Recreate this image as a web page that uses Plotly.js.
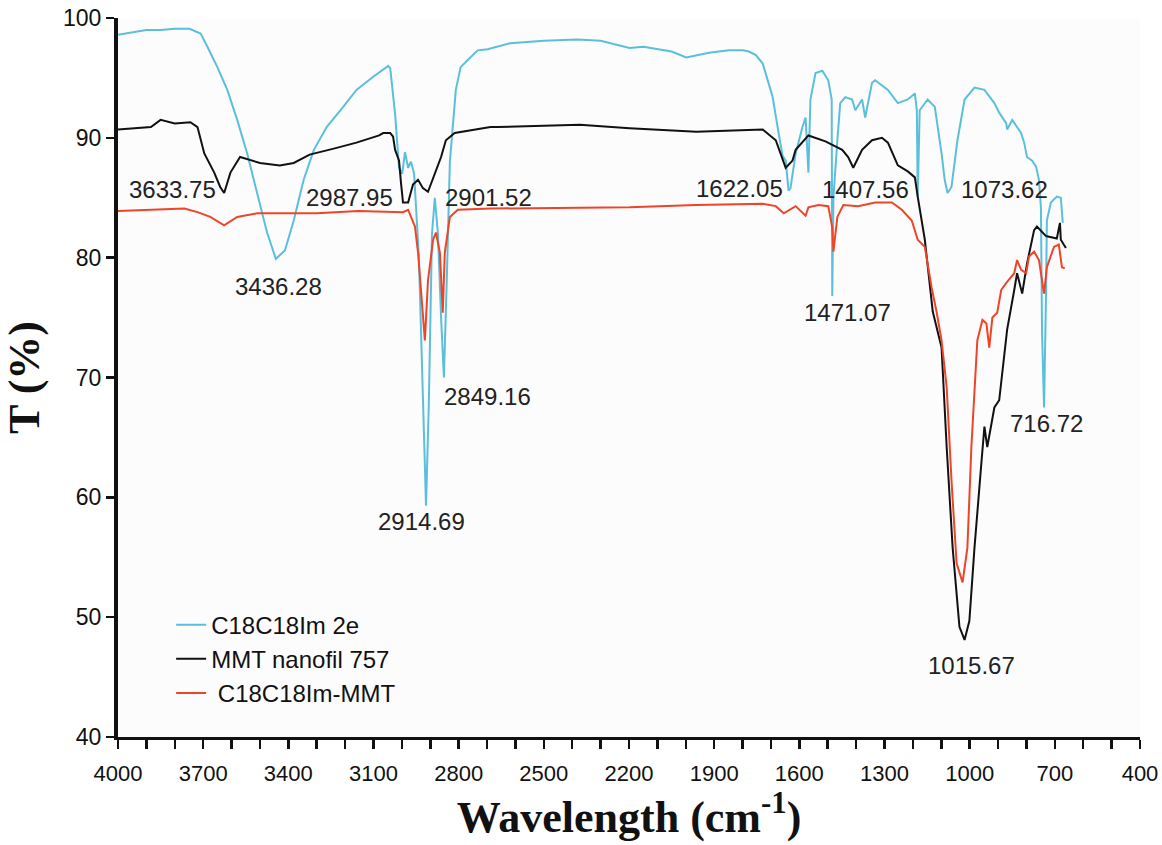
<!DOCTYPE html>
<html>
<head>
<meta charset="utf-8">
<script src="https://cdn.plot.ly/plotly-3.0.1.min.js"></script>
<style>html,body{margin:0;padding:0;background:#fff;}#chart{width:1162px;height:845px;}</style>
</head>
<body>
<div id="chart"></div>
<script>
// C18C18Im 2e (cyan)
const c18Wn = [4000,3950,3900,3850,3800,3748,3709,3685,3650,3615,3580,3545,3510,3475,3444,3412,3381,3346,3310,3265,3206,3160,3101,3055,3048,3041,3024,3010,2999,2989,2978,2968,2957,2940,2926,2915,2905,2894,2884,2873,2862,2852,2842,2831,2810,2793,2768,2733,2698,2663,2618,2500,2383,2300,2198,2149,2050,1998,1918,1848,1799,1778,1753,1729,1708,1694,1673,1659,1648,1638,1631,1613,1589,1578,1568,1561,1543,1519,1498,1486,1484,1480,1466,1456,1438,1414,1403,1379,1368,1344,1333,1288,1253,1218,1193,1186,1183,1176,1148,1123,1099,1088,1078,1064,1043,1018,983,948,913,896,871,868,850,819,808,798,780,766,756,749,745,738,731,728,714,693,679,672];
const c18T  = [98.6,98.8,99.0,99.0,99.1,99.1,98.7,97.6,95.9,94.0,91.5,88.7,85.4,82.1,79.9,80.6,83.1,86.5,89.0,90.9,92.6,94.0,95.1,95.9,96.0,95.8,92.0,87.5,87.0,88.8,87.5,88.0,87.0,80.0,68.0,59.3,68.0,82.0,85.0,82.0,75.0,70.0,78.0,88.0,94.0,95.9,96.5,97.3,97.4,97.6,97.9,98.1,98.2,98.1,97.5,97.6,97.2,96.7,97.1,97.3,97.3,97.2,96.9,96.2,94.6,93.4,90.4,88.5,88.1,85.6,85.8,88.7,90.9,91.7,87.1,93.2,95.4,95.6,94.8,93.2,76.8,85.0,89.8,92.9,93.4,93.2,92.3,93.2,91.7,94.6,94.8,94.0,92.9,93.2,93.7,92.3,85.1,92.3,93.2,92.6,88.7,86.5,85.4,85.9,89.8,93.2,94.2,94.0,92.9,92.1,91.2,90.7,91.5,90.4,89.6,88.4,88.1,87.6,86.5,84.2,73.7,67.5,77.0,83.1,84.6,85.1,85.0,82.9];

// MMT nanofil 757 (black)
const mmtWn = [4000,3884,3850,3800,3745,3720,3696,3661,3640,3626,3604,3570,3500,3430,3381,3325,3240,3160,3080,3066,3041,3031,3024,3010,3003,2996,2978,2961,2943,2926,2908,2884,2862,2845,2814,2688,2663,2373,2198,1963,1729,1683,1659,1648,1624,1613,1568,1508,1449,1428,1410,1379,1344,1309,1288,1253,1218,1193,1183,1158,1130,1099,1081,1060,1036,1018,1001,983,959,948,938,913,896,868,843,833,815,798,773,763,731,693,682,679,661];
const mmtT  = [90.7,90.9,91.5,91.2,91.3,90.9,88.7,87.1,85.9,85.4,87.1,88.4,87.9,87.7,87.9,88.6,89.1,89.6,90.2,90.4,90.4,90.1,89.0,88.1,86.2,84.6,84.6,86.1,86.5,85.8,85.5,87.1,88.4,89.8,90.4,90.9,90.9,91.1,90.8,90.5,90.7,89.8,88.1,87.5,88.1,89.0,90.2,89.7,89.0,88.4,87.5,89.0,89.8,90.0,89.6,87.7,87.2,86.7,85.1,81.5,75.5,72.5,64.2,55.8,49.2,48.1,49.7,55.8,62.8,65.9,64.2,67.5,68.1,74.0,77.3,78.7,77.0,79.5,82.3,82.6,81.8,81.6,82.9,81.5,80.8];

// C18C18Im-MMT (red)
const compWn = [4000,3766,3720,3675,3626,3580,3510,3300,3153,2996,2978,2961,2954,2943,2926,2919,2908,2890,2880,2866,2856,2849,2831,2803,2688,2383,2198,1963,1729,1683,1655,1613,1578,1568,1533,1498,1484,1480,1466,1445,1393,1333,1274,1239,1204,1183,1158,1134,1116,1099,1081,1064,1046,1025,1008,994,983,973,955,941,931,920,903,889,871,843,833,819,801,791,773,756,738,728,703,686,675,665];
const compT  = [83.9,84.1,83.8,83.4,82.7,83.4,83.7,83.7,83.9,83.8,84.0,83.1,82.6,80.4,74.8,73.1,78.1,81.5,82.1,80.4,75.4,80.4,83.4,84.0,84.1,84.2,84.2,84.4,84.5,84.3,83.7,84.3,83.5,84.2,84.4,84.3,82.5,80.5,83.4,84.4,84.3,84.6,84.6,84.0,83.1,81.5,80.9,77.5,75.4,73.1,69.2,61.4,54.5,52.9,55.8,64.2,69.2,73.1,74.8,74.5,72.5,75.0,75.4,77.3,77.9,78.7,79.8,79.0,78.7,80.1,80.5,79.8,77.0,79.2,80.9,81.1,79.2,79.1];

// Peak labels and where they sit (data coordinates)
const peakLabels = ["3633.75","3436.28","2987.95","2901.52","2849.16","2914.69","1622.05","1407.56","1073.62","1471.07","716.72","1015.67"];
const peakX = [3807,3433,3185,2695,2698,2932,1812,1368,878,1431,728,994];
const peakY = [85.7,77.6,85.05,85.05,68.45,58.0,85.8,85.7,85.7,75.4,66.2,46.0];

const seriesNames = ["C18C18Im 2e","MMT nanofil 757","\u00a0C18C18Im-MMT"];

const traces = [
  {x:c18Wn, y:c18T, name:seriesNames[0], mode:'lines', line:{color:'#5bbfdc', width:2}},
  {x:mmtWn, y:mmtT, name:seriesNames[1], mode:'lines', line:{color:'#111111', width:2}},
  {x:compWn, y:compT, name:seriesNames[2], mode:'lines', line:{color:'#ee4428', width:2}}
];

const annotations = peakLabels.map((t,i)=>({
  x:peakX[i], y:peakY[i], xref:'x', yref:'y', text:t, showarrow:false,
  xanchor:'center', yanchor:'middle',
  font:{family:'Liberation Sans, Arial, sans-serif', size:24, color:'#222'}
}));

const layout = {
  width:1162, height:845,
  margin:{l:118, r:22, t:18, b:108},
  paper_bgcolor:'#ffffff', plot_bgcolor:'#fcfcfc',
  font:{family:'Liberation Sans, Arial, sans-serif', size:22, color:'#111'},
  showlegend:true,
  legend:{x:0.052, y:0.187, xanchor:'left', yanchor:'top', bgcolor:'rgba(0,0,0,0)',
          font:{family:'Liberation Sans, Arial, sans-serif', size:24, color:'#111'}},
  xaxis:{
    range:[4000,400], showgrid:false, zeroline:false,
    showline:true, linecolor:'#111', linewidth:3,
    ticks:'outside', ticklen:9, tickwidth:2.5, tickcolor:'#111',
    tick0:400, dtick:300, ticklabelstandoff:6, ticklabeloverflow:'allow',
    tickfont:{family:'Liberation Sans, Arial, sans-serif', size:22, color:'#111'},
    minor:{dtick:100, ticks:'outside', ticklen:9, tickwidth:2.5, tickcolor:'#111', showgrid:false},
    title:{text:'Wavelength (cm<sup>-1</sup>)', standoff:12,
           font:{family:'Liberation Serif, Times New Roman, serif', size:44, color:'#111', weight:'bold'}}
  },
  yaxis:{
    range:[40,100], showgrid:false, zeroline:false,
    showline:true, linecolor:'#111', linewidth:4,
    ticks:'outside', ticklen:8, tickwidth:2.5, tickcolor:'#111',
    tick0:40, dtick:10,
    tickfont:{family:'Liberation Sans, Arial, sans-serif', size:23, color:'#111'},
    title:{text:'T (%)', standoff:22,
           font:{family:'Liberation Serif, Times New Roman, serif', size:44, color:'#111', weight:'bold'}}
  },
  annotations:annotations
};

Plotly.newPlot('chart', traces, layout, {displayModeBar:false, staticPlot:true});
</script>
</body>
</html>
